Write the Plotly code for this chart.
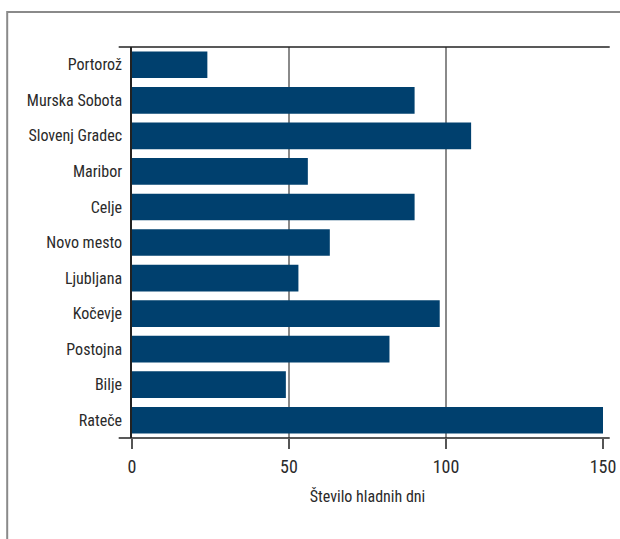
import plotly.graph_objects as go

# Cold days per station
stations = [
    "Portorož", "Murska Sobota", "Slovenj Gradec", "Maribor", "Celje",
    "Novo mesto", "Ljubljana", "Kočevje", "Postojna", "Bilje", "Rateče",
]
cold_days = [24, 90, 108, 56, 90, 63, 53, 98, 82, 49, 150]
x_ticks = [0, 50, 100, 150]
x_title = "Število hladnih dni"

W, H = 620, 539
L, R, T, B = 132.3, 16.7, 47, 101
pw = W - L - R
ph = H - T - B

FONT = "Roboto Condensed, Liberation Sans Narrow, DejaVu Sans Condensed, sans-serif"
BAR = "#00406e"
INK = "#2a2a2a"

fig = go.Figure(
    go.Bar(
        y=stations,
        x=cold_days,
        orientation="h",
        marker=dict(color=BAR, line=dict(width=0)),
        hoverinfo="x+y",
    )
)


def px_x(p):
    return (p - L) / pw


def px_y(p):
    return (H - B - p) / ph


shapes = [
    # outer frame
    dict(type="rect", xref="paper", yref="paper",
         x0=px_x(7.5), x1=px_x(700), y0=px_y(12), y1=px_y(620),
         line=dict(color="#8a8a8a", width=2), fillcolor="rgba(0,0,0,0)",
         layer="below"),
    # top and bottom rules of the plot area
    dict(type="line", xref="paper", yref="paper",
         x0=px_x(119), x1=px_x(610), y0=1, y1=1,
         line=dict(color="#222222", width=1.5)),
    dict(type="line", xref="paper", yref="paper",
         x0=px_x(119), x1=px_x(610), y0=0, y1=0,
         line=dict(color="#222222", width=1.5)),
    # darker gridline at 50
    dict(type="line", xref="x", yref="paper",
         x0=x_ticks[1], x1=x_ticks[1], y0=0, y1=1,
         line=dict(color="#333333", width=1.5), layer="below"),
]

fig.update_layout(
    width=W, height=H,
    margin=dict(l=L, r=R, t=T, b=B, pad=0, autoexpand=False),
    paper_bgcolor="white", plot_bgcolor="white",
    font=dict(family=FONT, size=16, color=INK),
    bargap=0.25,
    showlegend=False,
    shapes=shapes,
    xaxis=dict(
        range=[0, 150],
        automargin=False,
        tickvals=x_ticks,
        ticktext=[str(v) for v in x_ticks],
        showgrid=True, gridcolor="#8a8a8a", gridwidth=1.5,
        zeroline=False, showline=False,
        ticks="outside", ticklen=10, tickwidth=1.5, tickcolor="#555555",
        ticklabelstandoff=2,
        tickfont=dict(size=18, color=INK),
        title=dict(text=x_title, font=dict(size=16, color=INK), standoff=15),
    ),
    yaxis=dict(
        autorange="reversed",
        automargin=False,
        showgrid=False, zeroline=False,
        showline=True, linecolor="#222222", linewidth=1.5,
        ticks="", ticklabelstandoff=5,
        tickfont=dict(size=16, color=INK),
    ),
)

fig.write_html("out.html")
